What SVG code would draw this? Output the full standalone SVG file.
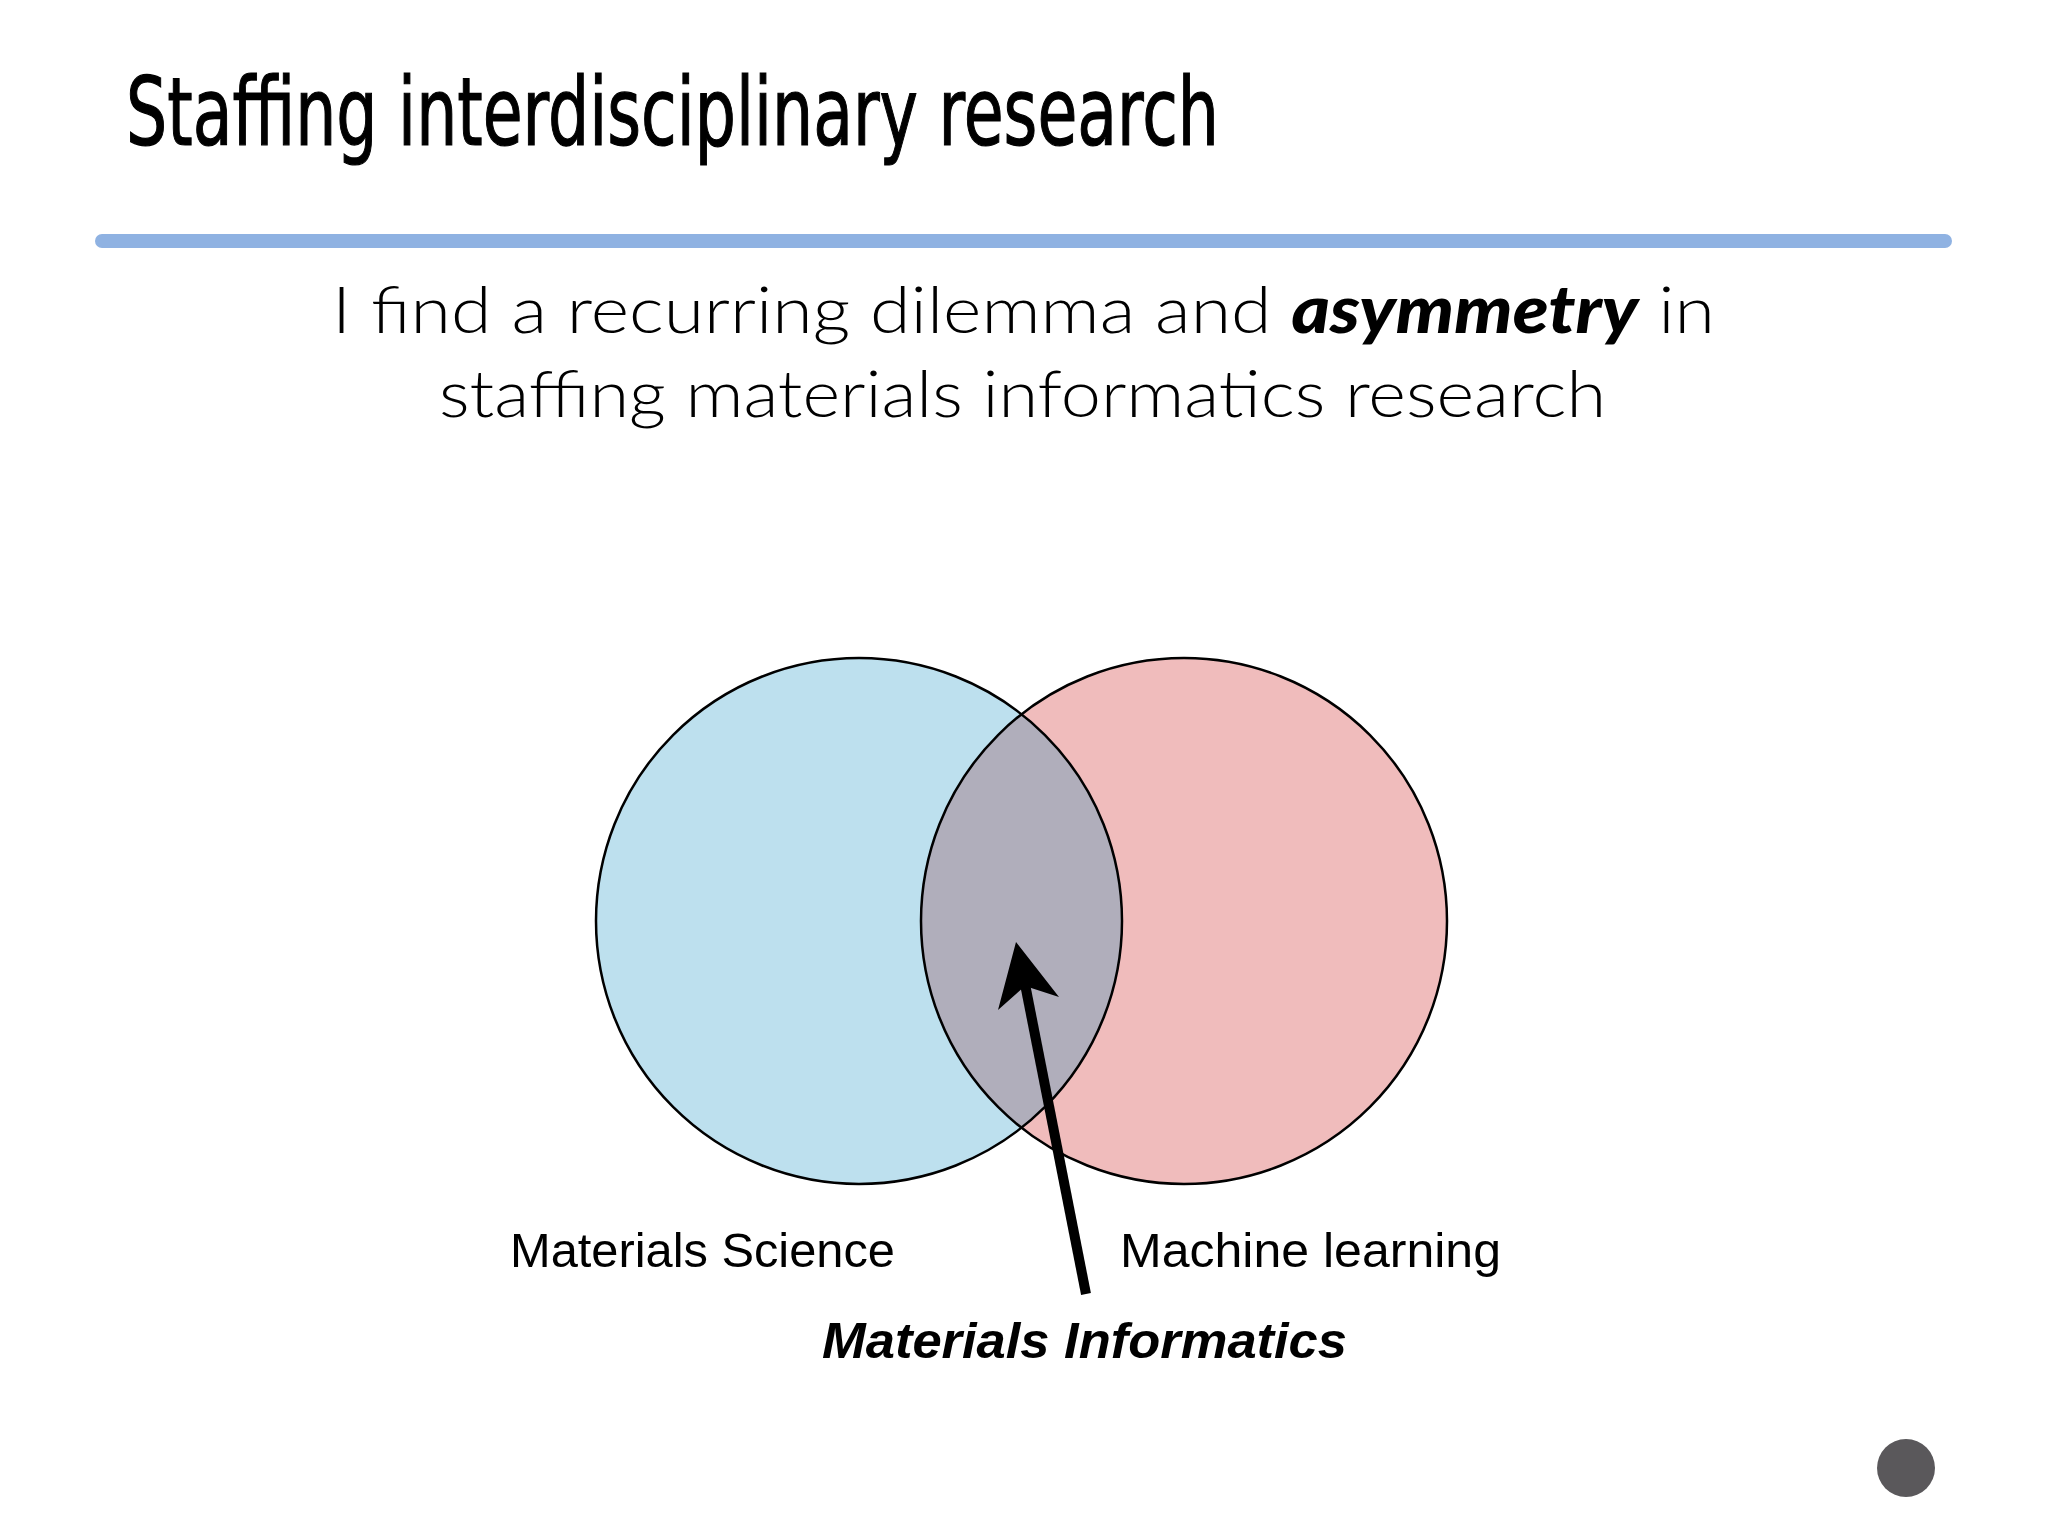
<svg xmlns="http://www.w3.org/2000/svg" width="2048" height="1536" viewBox="0 0 2048 1536">
<style>
.title{font-family:"Liberation Sans Narrow","DejaVu Sans Condensed","Liberation Sans",sans-serif;font-size:95px;fill:#000;stroke:#000;stroke-width:1.2}
.sub{font-family:Lato,"Open Sans",sans-serif;font-weight:300;font-size:66px;fill:#000}
.em{font-weight:900;font-style:italic}
.lbl{font-family:"Liberation Sans Narrow","Liberation Sans",sans-serif;font-size:48px;fill:#000}
.lblb{font-family:"Liberation Sans Narrow","Liberation Sans",sans-serif;font-size:50px;font-weight:bold;font-style:italic;fill:#000}
.ring{fill:none;stroke:#000;stroke-width:2.5}
</style>
<defs>
<clipPath id="clipL"><circle cx="859" cy="921" r="263"/></clipPath>
</defs>
<rect width="2048" height="1536" fill="#fff"/>
<g id="title">
<text class="title" x="126" y="145" textLength="1093" lengthAdjust="spacingAndGlyphs">Staffing interdisciplinary research</text>
<line x1="102" y1="241" x2="1945" y2="241" stroke="#8FB2E2" stroke-width="14" stroke-linecap="round"/>
</g>
<g id="subtitle">
<text class="sub" x="332" y="333" textLength="1383" lengthAdjust="spacingAndGlyphs">I find a recurring dilemma and <tspan class="em">asymmetry</tspan> in</text>
<text class="sub" x="439" y="417" textLength="1167" lengthAdjust="spacingAndGlyphs">staffing materials informatics research</text>
</g>
<g id="materials-science">
<circle cx="859" cy="921" r="263" fill="#BDE0EE"/>
</g>
<g id="machine-learning">
<circle cx="1184" cy="921" r="263" fill="#F0BCBC"/>
</g>
<g id="materials-informatics-overlap">
<circle cx="1184" cy="921" r="263" fill="#B0AEBB" clip-path="url(#clipL)"/>
</g>
<g id="outlines">
<circle class="ring" cx="859" cy="921" r="263"/>
<circle class="ring" cx="1184" cy="921" r="263"/>
</g>
<g id="connectors">
<line x1="1086" y1="1294" x2="1025" y2="984" stroke="#000" stroke-width="10"/>
<polygon points="1016,942 1059,997 1025,986 998,1010" fill="#000"/>
</g>
<g id="labels">
<text class="lbl" x="510" y="1267" textLength="385" lengthAdjust="spacingAndGlyphs">Materials Science</text>
<text class="lbl" x="1120" y="1267" textLength="381" lengthAdjust="spacingAndGlyphs">Machine learning</text>
<text class="lblb" x="822" y="1358" textLength="525" lengthAdjust="spacingAndGlyphs">Materials Informatics</text>
</g>
<g id="dot">
<circle cx="1906" cy="1468" r="29" fill="#5A585B"/>
</g>
</svg>
